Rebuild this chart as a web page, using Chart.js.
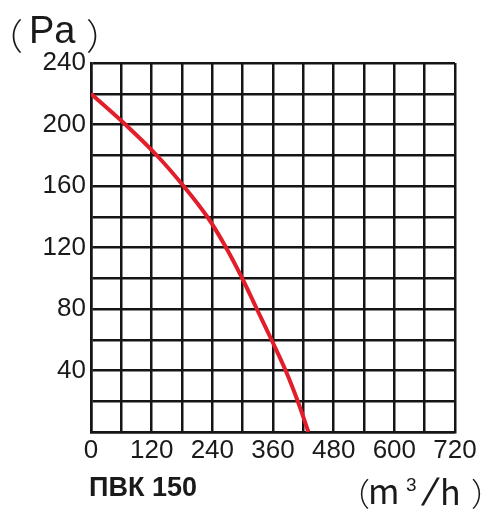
<!DOCTYPE html>
<html>
<head>
<meta charset="utf-8">
<script src="https://cdn.jsdelivr.net/npm/chart.js@4.4.1/dist/chart.umd.min.js"></script>
<style>
  html, body { margin: 0; padding: 0; background: #fff; }
  #wrap { width: 499px; height: 521px; }
</style>
</head>
<body>
<div id="wrap"><canvas id="fanChart" width="499" height="521"></canvas></div>
<script>
// airflow, m3/h
const flow = [0, 68, 130, 183, 230, 267, 299, 328, 357, 385, 409, 430];
// static pressure, Pa
const pressure = [220, 200, 180, 160, 140, 120, 100, 80, 60, 40, 20, 0];

const xTickLabels = [0, 120, 240, 360, 480, 600, 720];
const yTickLabels = [40, 80, 120, 160, 200, 240];

const modelName = 'ПВК 150';

const gridColor = '#151515';
const tickFont = { family: "'Liberation Sans', Arial, sans-serif", size: 26 };

// draw text so its ink box starts at (left, top); skew leans it to the right
function inkText(ctx, text, font, left, top, skew = 0) {
    ctx.font = font;
    ctx.textAlign = 'left';
    ctx.textBaseline = 'alphabetic';
    const m = ctx.measureText(text);
    const h = m.actualBoundingBoxAscent + m.actualBoundingBoxDescent;
    ctx.save();
    ctx.translate(left, top + m.actualBoundingBoxAscent);
    if (skew) {
        ctx.transform(1, 0, -skew, 1, 0, 0);
        ctx.translate(-skew * m.actualBoundingBoxDescent, 0);
    }
    ctx.fillText(text, m.actualBoundingBoxLeft, 0);
    ctx.restore();
}

const labelsPlugin = {
    id: 'labels',
    afterDraw(chart) {
        const ctx = chart.ctx;
        const cjk = "'Noto Sans CJK SC', sans-serif";
        const sans = "'Liberation Sans', Arial, sans-serif";
        ctx.save();
        ctx.fillStyle = '#1a1a1a';

        // y axis unit
        inkText(ctx, '（', '300 36px ' + cjk, 12, 18);
        inkText(ctx, 'Pa', '38px ' + sans, 32, 16);
        inkText(ctx, '）', '300 36px ' + cjk, 87, 18);

        // x axis unit
        inkText(ctx, '（', '300 32px ' + cjk, 360, 478);
        inkText(ctx, 'm', '34px ' + cjk, 371, 485);
        inkText(ctx, '3', '19px ' + sans, 406, 478);
        inkText(ctx, '/', '38px ' + sans, 421, 477, 0.3);
        inkText(ctx, 'h', '34px ' + cjk, 443, 477);
        inkText(ctx, '）', '300 32px ' + cjk, 472, 478);

        // model
        inkText(ctx, modelName, 'bold 27px ' + sans, 90, 477);
        ctx.restore();
    }
};

new Chart(document.getElementById('fanChart'), {
    type: 'line',
    data: {
        datasets: [{
            data: flow.map((x, i) => ({ x, y: pressure[i] })),
            borderColor: '#e31e2b',
            borderWidth: 4,
            pointRadius: 0,
            tension: 0.4,
            fill: false
        }]
    },
    options: {
        responsive: false,
        animation: false,
        layout: { padding: { top: 63, right: 44, left: 0, bottom: 0 } },
        plugins: {
            legend: { display: false },
            tooltip: { enabled: false }
        },
        scales: {
            x: {
                type: 'linear',
                min: 0,
                max: 720,
                afterFit: (scale) => { scale.height = 89; },
                grid: { color: gridColor, lineWidth: 2.5, drawTicks: false },
                border: { color: gridColor, width: 2.5 },
                ticks: {
                    stepSize: 60,
                    padding: 3,
                    color: '#1a1a1a',
                    font: tickFont,
                    maxRotation: 0,
                    autoSkip: false,
                    callback: (v) => xTickLabels.includes(v) ? String(v) : ''
                }
            },
            y: {
                min: 0,
                max: 240,
                afterFit: (scale) => { scale.width = 91; },
                grid: { color: gridColor, lineWidth: 2.5, drawTicks: false },
                border: { color: gridColor, width: 2.5 },
                ticks: {
                    stepSize: 20,
                    padding: 5,
                    color: '#1a1a1a',
                    font: tickFont,
                    autoSkip: false,
                    callback: (v) => yTickLabels.includes(v) ? String(v) : ''
                }
            }
        }
    },
    plugins: [labelsPlugin]
});
</script>
</body>
</html>
